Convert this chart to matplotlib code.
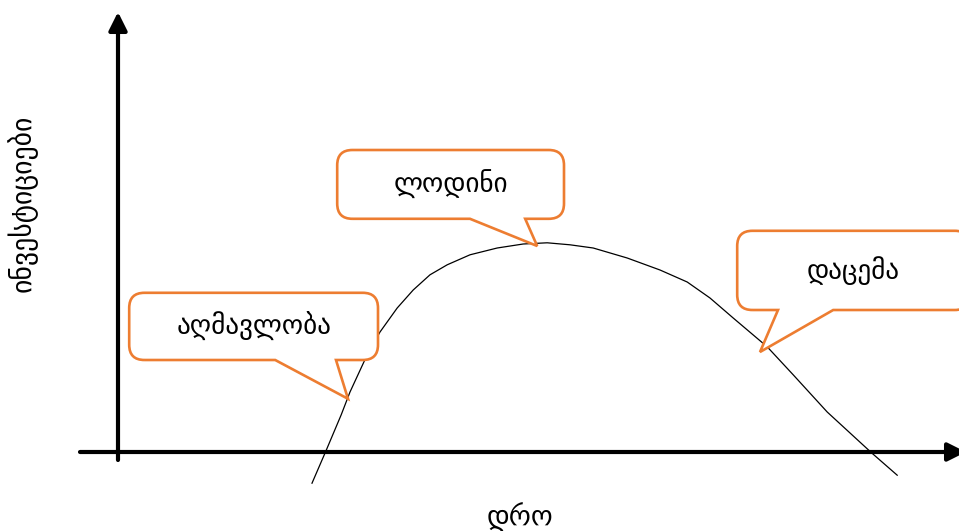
import matplotlib
matplotlib.use("Agg")
import matplotlib.pyplot as plt
from matplotlib.path import Path
from matplotlib.patches import PathPatch

# investment cycle curve (time, investment)
time = [4.85, 5.2, 5.58, 5.8, 6.23, 6.55, 6.98, 7.38, 7.8, 8.23, 8.8, 9.48,
        10.13, 10.73, 11.3, 11.88, 12.73, 13.55, 14.23, 14.8, 15.38, 16.23,
        16.88, 17.73, 18.85, 19.48]
invest = [-0.78, 0.03, 0.93, 1.5, 2.43, 3.0, 3.6, 4.05, 4.43, 4.68, 4.93, 5.1,
          5.2, 5.23, 5.18, 5.1, 4.85, 4.55, 4.25, 3.85, 3.35, 2.63,
          1.93, 1.0, -0.03, -0.58]

x_label = "დრო"
y_label = "ინვესტიციები"
phases = ["აღმავლობა", "ლოდინი", "დაცემა"]

orange = "#ED7D31"


def callout(ax, x0, y0, x1, y1, b0, b1, tip, text, r=0.38):
    # rounded box with a wedge pointer on the bottom edge
    verts = [(x0 + r, y0), (b0, y0), tip, (b1, y0), (x1 - r, y0),
             (x1, y0), (x1, y0 + r),
             (x1, y1 - r),
             (x1, y1), (x1 - r, y1),
             (x0 + r, y1),
             (x0, y1), (x0, y1 - r),
             (x0, y0 + r),
             (x0, y0), (x0 + r, y0)]
    codes = [Path.MOVETO, Path.LINETO, Path.LINETO, Path.LINETO, Path.LINETO,
             Path.CURVE3, Path.CURVE3,
             Path.LINETO,
             Path.CURVE3, Path.CURVE3,
             Path.LINETO,
             Path.CURVE3, Path.CURVE3,
             Path.LINETO,
             Path.CURVE3, Path.CURVE3]
    patch = PathPatch(Path(verts, codes), facecolor="white", edgecolor=orange,
                      lw=1.9, zorder=3, joinstyle="miter")
    ax.add_patch(patch)
    ax.text((x0 + x1) / 2, (y0 + y1) / 2, text, ha="center", va="center",
            fontsize=19.5, zorder=4)


fig = plt.figure(figsize=(9.59, 5.31), dpi=100)
ax = fig.add_axes([0, 0, 1, 1])
ax.set_xlim(-2.95, 21.025)
ax.set_ylim(-1.975, 11.3)
ax.axis("off")

# axes arrows
arrow = dict(arrowstyle="-|>,head_length=1.1,head_width=0.55",
             lw=3, color="black", shrinkA=0, shrinkB=0)
ax.annotate("", xy=(0, 11.0), xytext=(0, -0.2), arrowprops=arrow,
            annotation_clip=False)
ax.annotate("", xy=(21.2, 0), xytext=(-0.95, 0), arrowprops=arrow,
            annotation_clip=False)

ax.plot(time, invest, color="black", lw=0.9, zorder=2)

callout(ax, 0.28, 2.3, 6.5, 3.98, 3.93, 5.45, (5.75, 1.33), phases[0])
callout(ax, 5.48, 5.83, 11.15, 7.55, 8.8, 10.18, (10.48, 5.15), phases[1])
callout(ax, 15.48, 3.55, 21.3, 5.53, 16.5, 17.88, (16.05, 2.5), phases[2])

ax.text(10.05, -1.62, x_label, ha="center", va="center", fontsize=20)
ax.text(-2.4, 6.22, y_label, ha="center", va="center", fontsize=20, rotation=90)

fig.savefig("out.png", dpi=100)
